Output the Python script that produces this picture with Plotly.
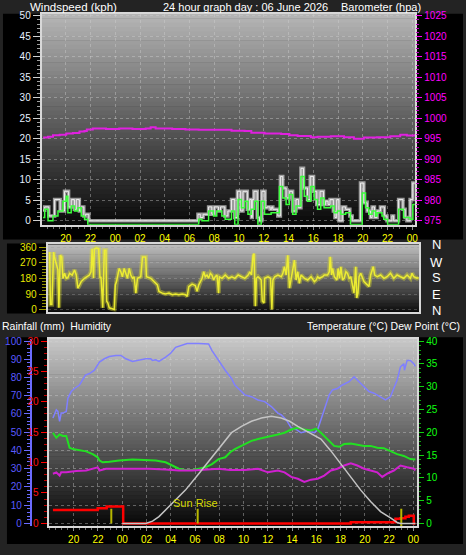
import plotly.graph_objects as go

# ---------------- DATA ----------------
# time axis: hours relative to the first midnight (20:00 of previous day = -4)
tick_vals = [-4, -2, 0, 2, 4, 6, 8, 10, 12, 14, 16, 18, 20, 22, 24]
tick_text = ["20", "22", "00", "02", "04", "06", "08", "10", "12", "14", "16", "18", "20", "22", "00"]

gust_t = [-5.83, -5.70, -5.37, -4.90, -4.45, -4.10, -3.77, -3.55, -3.30, -3.15, -2.90, -2.75, -2.54, -2.40, -2.14,
          6.68, 6.87, 7.10, 7.54, 7.80, 8.00, 8.34, 8.50, 8.85, 9.10,
          9.39, 9.65, 9.87, 10.13, 10.32, 10.67, 10.86, 11.00, 11.07, 11.20,
          11.47, 11.66, 11.84, 12.10, 12.27, 12.51, 12.64, 12.73, 13.13, 13.34,
          13.53, 13.80, 14.06, 14.33, 14.60, 14.81, 15.00, 15.21, 15.53, 15.75,
          16.02, 16.28, 16.55, 16.82, 17.00, 17.19, 17.35, 17.62, 17.75, 17.89,
          18.07, 18.34, 18.61, 18.95, 19.14, 19.81, 20.08, 20.35, 20.62, 20.75,
          20.94, 21.15, 21.42, 21.74, 21.95, 22.35, 22.49, 22.89, 23.24, 23.42,
          23.56, 23.82, 24.04, 24.20]
gust_kph = [2.6, 3.4, 1.2, 5.2, 2.4, 7.2, 3.4, 5.2, 2.8, 5.2, 2.4, 3.4, 1.2, 1.6, 0,
            1.6, 0.8, 1.6, 3.4, 1.6, 3.4, 2.4, 3.4, 1.2, 2.4,
            5.2, 0.8, 7.2, 2.4, 7.2, 2.8, 5.2, 0.8, 5.2, 7.2,
            0.8, 0, 7.2, 3.2, 3.4, 2.8, 3.4, 2.8, 1.2, 10.8,
            8.0, 5.6, 7.2, 2.4, 5.2, 3.2, 12.8, 8.0, 5.2, 10.8,
            7.2, 4.0, 7.2, 4.0, 4.8, 4.0, 5.2, 2.4, 0.8, 5.2,
            0, 3.4, 2.8, 1.2, 0, 9.2, 4.4, 2.4, 0.8, 3.4,
            0.8, 2.4, 3.4, 1.2, 0, 1.2, 0, 5.2, 2.8, 0.8,
            0, 5.2, 9.2, 9.2]

avg_t = [-5.83, -5.70, -5.43, -5.03, -4.63, -4.23, -3.96, -3.83, -3.56, -3.29, -3.02, -2.75, -2.48, -2.22,
         6.74, 7.00, 7.54, 7.94, 8.20, 8.61, 8.88,
         9.39, 9.65, 9.92, 10.19, 10.45, 10.72, 10.99, 11.26, 11.52, 11.79,
         12.06, 12.59, 13.26, 13.53, 13.80, 14.06, 14.33, 14.60, 15.00, 15.27,
         15.53, 15.80, 16.07, 16.34, 16.60, 16.87, 17.41, 17.68, 17.94, 18.21,
         18.61, 19.00, 19.95, 20.22, 20.48, 20.75, 21.02, 21.15, 21.55, 21.69,
         22.00, 22.89, 23.29, 23.82, 24.04, 24.20]
avg_kph = [0.8, 2.8, 0, 1.2, 2.4, 4.8, 6.0, 2.0, 3.6, 2.4, 3.2, 1.2, 0.4, -0.9,
           0.4, 0, 2.4, 1.2, 2.4, 1.2, 0.4,
           2.4, -0.9, 5.2, 3.2, 4.8, 1.6, 2.8, 4.8, -0.9, 4.8,
           1.6, 2.0, 8.4, 5.6, 4.0, 6.4, 1.6, 3.6, 10.8, 6.0,
           4.8, 8.4, 5.2, 2.8, 5.6, 3.2, 3.6, 2.0, 2.4, 1.6,
           2.0, -0.9, 6.8, 3.2, 1.6, 2.4, 1.2, 2.0, 1.2, 0.4,
           -0.9, 2.8, 0.8, 0.4, 4.0, 4.0]

baro_t = [-5.83, -5.43, -5.03, -4.49, -3.96, -3.42, -2.89, -2.49, -2.30, -1.82,
          -0.75, 0.32, 1.39, 2.46, 2.86, 3.26, 4.60, 5.67, 6.74, 8.34,
          9.39, 10.45, 10.99, 12.06, 13.40, 14.07, 14.73, 15.80, 16.34, 17.41,
          18.48, 19.28, 20.08, 21.15, 22.22, 23.02, 23.56, 24.20]
baro_hpa = [995.3, 995.5, 995.9, 996.0, 996.3, 996.4, 996.8, 996.9, 997.3, 997.5,
            997.4, 997.5, 997.4, 997.5, 997.8, 997.5, 997.4, 997.3, 997.2, 997.2,
            997.0, 996.9, 996.5, 996.3, 996.2, 995.9, 995.7, 995.4, 995.5, 995.6,
            995.4, 995.0, 995.3, 995.4, 995.6, 996.0, 995.8, 996.1]

dir_t = [-5.78, -5.72, -5.60, -5.46, -5.38, -5.20, -5.11, -5.03, -4.92, -4.80,
         -4.70, -4.57, -4.43, -4.30, -4.16, -3.95, -3.76, -3.62, -3.49, -3.35,
         -3.22, -2.95, -2.70, -2.55, -2.42, -2.33, -2.22, -2.15, -2.01, -1.80,
         -1.69, -1.61, -1.47, -1.34, -1.21, -1.15, -1.05, -0.94, -0.53, -0.45,
         -0.35, -0.13, 0.00, 0.13, 0.27, 0.40, 0.54, 0.68, 0.81, 0.95,
         1.08, 1.22, 1.35, 1.62, 1.76, 2.02, 2.08, 2.43, 2.70, 2.97,
         3.10, 3.37, 3.64, 3.91, 4.18, 4.45, 4.71, 4.98, 5.25, 5.39,
         5.52, 5.79, 6.05, 6.19, 6.33, 6.46, 6.60, 6.73, 6.86, 7.00,
         7.13, 7.27, 7.40, 7.54, 7.67, 7.81, 7.94, 8.00, 8.21, 8.48,
         8.75, 9.02, 9.26, 9.53, 9.80, 10.07, 10.34, 10.48, 10.61, 10.74,
         10.82, 10.93, 11.01, 11.14, 11.28, 11.40, 11.49, 11.63, 11.68, 11.95,
         12.16, 12.27, 12.35, 12.50, 12.76, 13.03, 13.16, 13.29, 13.43, 13.56,
         13.70, 13.83, 13.97, 14.10, 14.24, 14.37, 14.50, 14.64, 14.91, 15.18,
         15.45, 15.72, 15.86, 15.99, 16.12, 16.39, 16.52, 16.79, 16.93, 17.01,
         17.12, 17.20, 17.34, 17.55, 17.65, 17.76, 17.87, 18.01, 18.14, 18.28,
         18.41, 18.55, 18.68, 18.81, 18.94, 19.08, 19.16, 19.26, 19.35, 19.48,
         19.62, 19.75, 20.02, 20.15, 20.29, 20.42, 20.50, 20.62, 20.83, 21.10,
         21.37, 21.63, 21.90, 22.17, 22.44, 22.71, 22.98, 23.25, 23.52, 23.65,
         23.79, 24.06, 24.19]
dir_deg = [333, 29, 29, 333, 300, 260, 230, 10, 314, 305,
           180, 210, 181, 185, 210, 200, 229, 200, 124, 143,
           162, 181, 190, 200, 219, 352, 181, 350, 356, 352,
           181, 190, 10, 343, 343, 48, 38, 10, 0, 143,
           162, 238, 219, 190, 238, 210, 181, 238, 200, 181,
           190, 95, 181, 190, 305, 305, 190, 181, 162, 143,
           105, 95, 90, 95, 86, 90, 86, 90, 86, 76,
           133, 147, 139, 105, 143, 162, 181, 219, 190, 200,
           181, 210, 200, 171, 190, 200, 95, 190, 181, 200,
           181, 190, 181, 200, 190, 181, 200, 219, 200, 314,
           324, 19, 181, 190, 181, 171, 48, 38, 181, 190,
           181, 0, 171, 190, 200, 190, 210, 248, 200, 314,
           124, 181, 219, 286, 171, 219, 152, 200, 181, 171,
           190, 162, 171, 190, 181, 190, 200, 200, 219, 305,
           200, 238, 190, 171, 238, 181, 248, 171, 181, 219,
           210, 181, 190, 133, 95, 248, 67, 95, 190, 210,
           181, 162, 143, 133, 200, 229, 248, 200, 190, 200,
           181, 190, 210, 181, 200, 190, 181, 200, 181, 210,
           190, 181, 185]
compass_text = ["N", "W", "S", "E", "N"]

hum_t = [-5.71, -5.43, -5.30, -5.16, -5.03, -4.89, -4.61, -4.48, -4.20, -3.93,
         -3.52, -3.25, -3.03, -2.70, -2.29, -1.88, -1.47, -1.06, -0.52, -0.11,
         0.30, 0.85, 1.39, 1.94, 2.35, 2.49, 2.76, 3.03, 3.58, 3.99,
         4.40, 4.80, 5.35, 6.30, 7.12, 7.40, 7.94, 8.49, 9.01, 9.28,
         9.83, 10.10, 10.65, 11.19, 11.74, 12.29, 12.83, 13.10, 13.51, 13.93,
         14.33, 14.74, 15.29, 15.84, 16.11, 16.38, 16.79, 17.06, 17.33, 17.74,
         18.15, 18.70, 18.97, 19.11, 19.52, 19.93, 20.34, 20.75, 21.29, 21.70,
         22.11, 22.39, 22.66, 22.93, 23.21, 23.26, 23.48, 23.75, 24.03, 24.16]
hum_pct = [57.8, 62.3, 61.4, 56.0, 60.5, 60.5, 61.4, 68.6, 72.3, 74.0,
           75.9, 78.6, 81.3, 82.2, 84.0, 88.5, 90.3, 91.5, 92.1, 92.1,
           90.3, 88.8, 89.4, 90.3, 90.3, 89.4, 89.7, 88.8, 91.2, 93.3,
           96.6, 97.5, 98.7, 98.7, 98.4, 94.8, 89.4, 84.0, 79.5, 75.9,
           72.3, 70.5, 69.5, 67.7, 66.8, 64.1, 60.5, 59.6, 56.9, 52.4,
           51.5, 49.7, 50.6, 49.7, 51.5, 56.9, 65.9, 70.5, 73.2, 74.0,
           75.9, 77.7, 79.5, 80.4, 77.7, 75.0, 72.3, 71.4, 69.5, 67.7,
           69.5, 74.0, 78.6, 85.8, 87.6, 84.0, 89.4, 89.4, 87.6, 86.1]

temp_t = [-5.71, -5.43, -5.16, -4.89, -4.61, -4.48, -4.34, -4.07, -3.52, -2.98,
          -2.43, -2.02, -1.88, -1.61, -1.06, -0.25, 0.85, 1.94, 2.76, 3.58,
          4.12, 4.67, 5.21, 5.76, 6.31, 6.85, 7.40, 7.94, 8.49, 8.90,
          9.28, 9.83, 10.65, 11.19, 11.74, 12.29, 12.83, 13.38, 13.93, 14.47,
          15.01, 15.56, 15.97, 16.38, 16.93, 17.47, 17.88, 18.29, 18.84, 19.38,
          19.93, 20.47, 21.02, 21.56, 22.11, 22.66, 23.21, 23.75, 24.16]
temp_c = [19.9, 18.8, 19.5, 19.2, 19.2, 17.7, 16.6, 16.3, 16.1, 15.8,
          15.2, 14.5, 13.8, 13.4, 13.5, 13.8, 14.0, 13.9, 13.8, 13.4,
          12.7, 12.0, 11.7, 11.7, 12.0, 12.3, 13.0, 14.1, 14.5, 15.6,
          16.3, 17.0, 18.1, 18.5, 18.8, 19.2, 19.5, 19.9, 20.6, 21.0,
          20.6, 20.4, 20.8, 19.9, 18.5, 17.0, 16.8, 17.4, 17.5, 17.2,
          17.0, 17.0, 16.6, 16.5, 15.8, 15.2, 14.8, 14.1, 14.0]

dew_t = [-5.71, -5.43, -5.16, -5.03, -4.61, -3.79, -2.98, -2.29, -2.02, -1.88,
         -1.34, -0.52, 0.85, 2.21, 3.58, 4.67, 5.76, 6.85, 7.94, 8.90,
         10.10, 11.19, 12.01, 12.83, 13.38, 13.93, 14.47, 15.01, 15.56, 16.11,
         16.65, 17.20, 17.74, 18.29, 18.84, 19.38, 19.93, 20.47, 21.02, 21.43,
         21.84, 22.39, 22.93, 23.48, 24.03, 24.16]
dew_c = [10.9, 11.2, 10.5, 11.2, 11.2, 11.5, 11.6, 12.0, 12.3, 11.6,
         12.0, 12.0, 12.0, 12.0, 11.8, 11.6, 11.6, 11.8, 12.0, 11.7,
         11.7, 12.0, 11.2, 11.6, 11.2, 10.2, 9.8, 9.1, 9.6, 9.8,
         10.5, 11.6, 12.0, 12.7, 13.2, 12.7, 12.0, 11.6, 11.2, 10.2,
         10.9, 11.6, 12.7, 12.3, 12.0, 11.6]

sun_t = [0.0, 1.94, 2.50, 3.03, 4.12, 5.21, 6.31, 7.40, 8.49, 9.01,
         9.83, 10.65, 11.47, 12.29, 13.10, 13.80, 14.47, 15.29, 16.38, 17.20,
         18.02, 18.84, 19.66, 20.47, 21.29, 22.11, 22.66, 22.93, 24.16]
sun_curve = [0.0, 0.0, 0.5, 1.5, 4.4, 7.3, 10.9, 14.5, 18.1, 19.9,
             21.3, 22.4, 23.1, 23.5, 23.1, 22.4, 21.3, 20.1, 18.5, 15.9,
             13.0, 10.2, 7.3, 4.8, 2.6, 1.2, 0.2, 0.0, 0.0]

rain_t = [-5.71, -2.02, -1.28, 0.08, 18.84, 22.52, 22.93, 23.34, 23.62, 24.03, 24.16]
rain_mm = [2.2, 2.5, 2.76, 0, 0.2, 0.75, 0.86, 1.1, 1.24, 0, 0]

event_t = [-0.90, 6.22, 23.00]
event_lo = [0.0, 0.0, -0.8]
event_hi = [2.4, 2.4, 2.4]
event_label = ["", "Sun Rise", ""]

# ---------------- LAYOUT HELPERS ----------------
W, H = 466, 555


def px(x):
    return x / W


def py(y):
    return 1 - y / H


TICKF = "Liberation Sans Narrow, Liberation Sans, Arial, sans-serif"
TITLEF = "Liberation Sans, Arial, sans-serif"
GRID = "rgba(210,210,210,0.40)"

shapes = []


def box(x0, x1, y0, y1, color):
    shapes.append(dict(type="rect", xref="paper", yref="paper", x0=px(x0), x1=px(x1),
                       y0=py(y1), y1=py(y0), fillcolor=color, line=dict(width=0), layer="below"))


def gradient(x0, x1, y0, y1, c_top, c_bot, n=48):
    for i in range(n):
        a = y0 + (y1 - y0) * i / n
        b = y0 + (y1 - y0) * (i + 1) / n + 0.6
        f = (i + 0.5) / n
        c = int(round(c_top + (c_bot - c_top) * f))
        box(x0, x1, a, min(b, y1), "rgb(%d,%d,%d)" % (c, c, c))


# black panels
box(3, 466, 10, 239, "#000000")
box(7, 422, 243, 314, "#000000")
box(7, 466, 338, 548, "#000000")
# plot-area gradients
gradient(42, 418, 10, 224, 182, 8)
gradient(48, 422, 244, 312, 192, 14)
gradient(49, 420, 340, 530, 200, 6)

fig = go.Figure()

# ---- panel 1: wind + barometer
fig.add_trace(go.Scatter(x=baro_t, y=baro_hpa, xaxis="x", yaxis="y2", mode="lines",
                         line=dict(color="#e020e0", width=2, shape="hv")))
fig.add_trace(go.Scatter(x=gust_t, y=gust_kph, xaxis="x", yaxis="y", mode="lines",
                         line=dict(color="rgba(200,200,200,0.75)", width=3.5, shape="hv")))
fig.add_trace(go.Scatter(x=gust_t, y=gust_kph, xaxis="x", yaxis="y", mode="lines",
                         line=dict(color="rgba(245,245,245,0.9)", width=1, shape="hv")))
fig.add_trace(go.Scatter(x=avg_t, y=avg_kph, xaxis="x", yaxis="y", mode="lines",
                         line=dict(color="#3cff3c", width=1.5, shape="hv")))
# ---- panel 2: wind direction (soft band + core line)
fig.add_trace(go.Scatter(x=dir_t, y=dir_deg, xaxis="x2", yaxis="y3", mode="lines",
                         line=dict(color="rgba(225,225,40,0.40)", width=4.5)))
fig.add_trace(go.Scatter(x=dir_t, y=dir_deg, xaxis="x2", yaxis="y3", mode="lines",
                         line=dict(color="rgba(240,240,50,0.95)", width=1.5)))
# ---- panel 3
fig.add_trace(go.Scatter(x=hum_t, y=hum_pct, xaxis="x3", yaxis="y4", mode="lines",
                         line=dict(color="#7f7fff", width=1.5)))
fig.add_trace(go.Scatter(x=temp_t, y=temp_c, xaxis="x3", yaxis="y6", mode="lines",
                         line=dict(color="#22e022", width=2)))
fig.add_trace(go.Scatter(x=dew_t, y=dew_c, xaxis="x3", yaxis="y6", mode="lines",
                         line=dict(color="#d020d0", width=2)))
fig.add_trace(go.Scatter(x=sun_t, y=sun_curve, xaxis="x3", yaxis="y6", mode="lines",
                         line=dict(color="#c4c4c4", width=1.5)))
fig.add_trace(go.Scatter(x=rain_t, y=rain_mm, xaxis="x3", yaxis="y5", mode="lines",
                         line=dict(color="#ff0000", width=2.5, shape="hv")))
ex, ey = [], []
for t, lo, hi in zip(event_t, event_lo, event_hi):
    ex += [t, t, None]
    ey += [lo, hi, None]
fig.add_trace(go.Scatter(x=ex, y=ey, xaxis="x3", yaxis="y5", mode="lines", cliponaxis=False,
                         line=dict(color="#b8b800", width=2)))

annotations = []
for t, hi, lab in zip(event_t, event_hi, event_label):
    if lab:
        annotations.append(dict(x=t, y=hi, xref="x3", yref="y5", text=lab, showarrow=False,
                                xanchor="center", yanchor="bottom", yshift=-2, xshift=-2,
                                font=dict(family=TITLEF, size=11, color="#d8d800")))


def title(text, x, y, anchor="center", size=12):
    annotations.append(dict(x=px(x), y=py(y), xref="paper", yref="paper", text=text,
                            showarrow=False, xanchor=anchor, yanchor="middle", borderpad=0,
                            font=dict(family=TITLEF, size=size, color="#ffffff")))


title("Windspeed (kph)", 74, 3, size=11.5)
title("24 hour graph day : 06 June 2026", 247, 3, size=11)
title("Barometer (hpa)", 425, 3, "right", size=11)
title("Rainfall (mm)\u00a0 Humidity", 1, 327, "left", size=10.5)
title("Temperature (°C)\u00a0Dew Point (°C)", 464, 327, "right", size=10.5)
for lab, yy in zip(compass_text, [244, 262, 278, 295, 311]):
    annotations.append(dict(x=px(439), y=py(yy), xref="paper", yref="paper", text=lab,
                            showarrow=False, xanchor="center", yanchor="middle",
                            font=dict(family=TITLEF, size=13, color="#ffffff")))


def xax(domain, anchor, rng, labels=True):
    d = dict(domain=domain, anchor=anchor, range=rng, tickmode="array",
             tickvals=tick_vals, ticktext=tick_text, showticklabels=labels,
             tickfont=dict(family=TICKF, size=10, color="#ffff00"),
             showgrid=labels, gridcolor=GRID, griddash="dot", gridwidth=1,
             zeroline=False, showline=True, linecolor="#d8d8d8", linewidth=2, mirror=True,
             ticks="outside" if labels else "", ticklen=3, tickcolor="#909090", fixedrange=True)
    if labels:
        d["minor"] = dict(ticks="outside", ticklen=2, tickcolor="#707070", tickmode="linear",
                          tick0=0, dtick=0.5, showgrid=False)
    return d


def yax(domain, rng, dtick, tick0, color, tcolor, **kw):
    d = dict(domain=domain, range=rng, tickmode="linear", dtick=dtick, tick0=tick0,
             tickfont=dict(family=TICKF, size=10, color=color), ticks="outside",
             ticklen=7, tickcolor=tcolor, tickwidth=1, zeroline=False, showgrid=False,
             fixedrange=True)
    d.update(kw)
    return d


fig.update_layout(
    width=W, height=H, autosize=False, margin=dict(l=0, r=0, t=0, b=0),
    paper_bgcolor="#232323", plot_bgcolor="rgba(0,0,0,0)",
    showlegend=False, hovermode=False, shapes=shapes, annotations=annotations,
    xaxis=xax([px(42), px(418)], "y", [-5.94, 24.24]),
    xaxis2=xax([px(48), px(422)], "y3", [-5.94, 24.24], labels=False),
    xaxis3=xax([px(49), px(420)], "y4", [-6.06, 24.32]),
    yaxis=yax([py(224), py(10)], [-0.96, 50.48], 5, 0, "#e6f0ff", "#d0d0d0",
              anchor="x", showgrid=True, gridcolor=GRID, griddash="dot",
              showline=True, linecolor="#d8d8d8", linewidth=2, mirror=True,
              minor=dict(ticks="outside", ticklen=3, tickcolor="#a0a0a0", dtick=1, showgrid=False)),
    yaxis2=yax([py(224), py(10)], [974.04, 1025.48], 5, 975, "#ff00ff", "#ff00ff",
               overlaying="y", side="right", anchor="x", ticklen=6,
               minor=dict(ticks="outside", ticklen=3, tickcolor="#c000c0", dtick=1, showgrid=False)),
    yaxis3=yax([py(312), py(244)], [-11.4, 377], 90, 0, "#e8e800", "#a0a000",
               anchor="x2", showgrid=True, gridcolor="rgba(210,210,210,0.25)", griddash="dot",
               showline=True, linecolor="#d8d8d8", linewidth=2, mirror=True,
               minor=dict(ticks="outside", ticklen=4, tickcolor="#909000", dtick=18, showgrid=False)),
    yaxis4=yax([py(530), py(340)], [-1.62, 101.08], 10, 0, "#5a5aff", "#6b6bff",
               anchor="free", position=px(31), side="left", ticklen=6,
               showline=True, linecolor="#6b6bff", linewidth=2,
               showgrid=True, gridcolor=GRID, griddash="dot",
               minor=dict(ticks="outside", ticklen=3, tickcolor="#6b6bff", dtick=2, showgrid=False)),
    yaxis5=yax([py(530), py(340)], [-0.49, 30.32], 5, 0, "#ff1010", "#ff0000",
               overlaying="y4", side="left", anchor="x3", ticklen=6,
               showline=True, linecolor="#d8d8d8", linewidth=2,
               minor=dict(ticks="outside", ticklen=3, tickcolor="#c00000", dtick=1, showgrid=False)),
    yaxis6=yax([py(530), py(340)], [-0.65, 40.43], 5, 0, "#10ff10", "#10d010",
               overlaying="y4", side="right", anchor="x3", ticklen=5,
               showline=True, linecolor="#d8d8d8", linewidth=2,
               minor=dict(ticks="outside", ticklen=2, tickcolor="#10a010", dtick=1, showgrid=False)),
)

fig.write_html("out.html", config={"displayModeBar": False},
               post_script="document.body.style.margin='0px';document.body.style.padding='0px';")
